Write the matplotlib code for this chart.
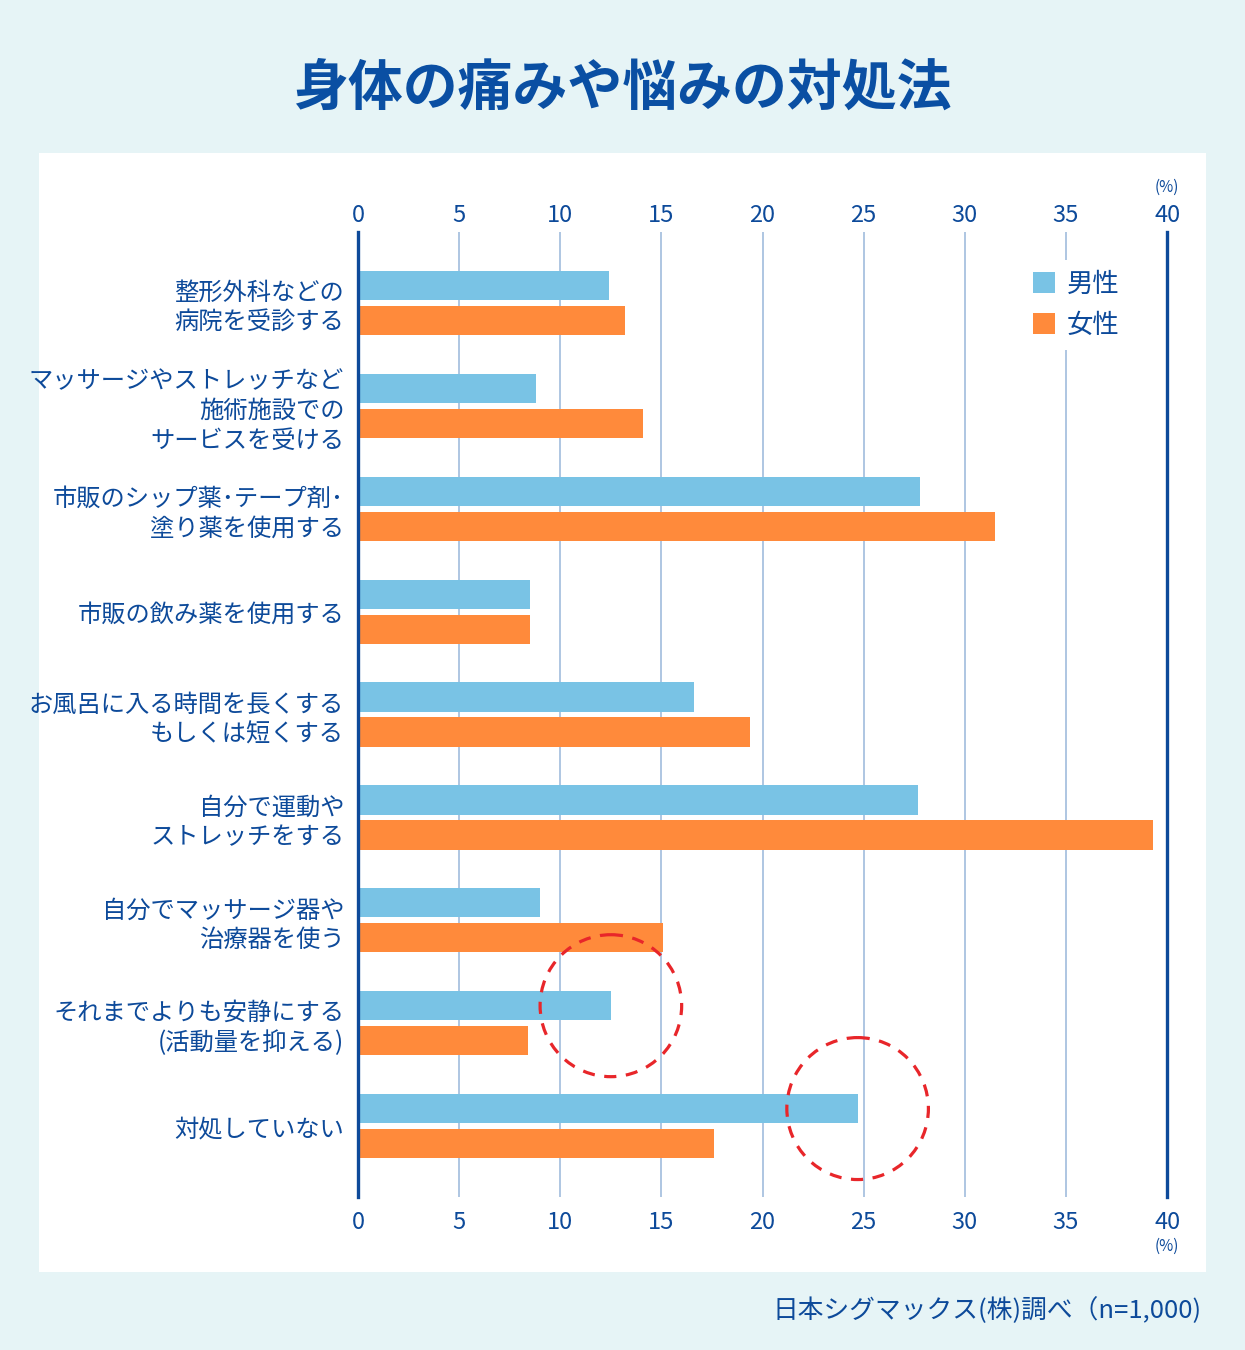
import matplotlib
matplotlib.use("Agg")
import matplotlib.pyplot as plt
from matplotlib.patches import Rectangle, Ellipse
import numpy as np

plt.rcParams['font.family'] = ['Noto Sans CJK JP', 'DejaVu Sans']

categories = [
    "整形外科などの\n病院を受診する",
    "マッサージやストレッチなど\n施術施設での\nサービスを受ける",
    "市販のシップ薬･テープ剤･\n塗り薬を使用する",
    "市販の飲み薬を使用する",
    "お風呂に入る時間を長くする\nもしくは短くする",
    "自分で運動や\nストレッチをする",
    "自分でマッサージ器や\n治療器を使う",
    "それまでよりも安静にする\n(活動量を抑える)",
    "対処していない",
]
men = [12.4, 8.8, 27.8, 8.5, 16.6, 27.7, 9.0, 12.5, 24.7]
women = [13.2, 14.1, 31.5, 8.5, 19.4, 39.3, 15.1, 8.4, 17.6]
xticks = [0, 5, 10, 15, 20, 25, 30, 35, 40]
circled = [7, 8]  # categories highlighted with a dashed circle (men's bar)

navy = '#0D4A9A'
c_men = '#79C3E5'
c_women = '#FF8A3B'
grid_c = '#AEC6E2'
bg = '#E6F4F6'

fig = plt.figure(figsize=(12.45, 13.5), dpi=100, facecolor=bg)

# white panel
fig.patches.append(Rectangle((0.0313, 0.0578), 0.9374, 0.8289,
                             transform=fig.transFigure, facecolor='white',
                             edgecolor='none', zorder=-1))

fig.text(0.5, 0.9348, "身体の痛みや悩みの対処法", ha='center', va='center',
         fontsize=39.5, fontweight='bold', color='#0A4FA3')

ax = fig.add_axes([0.2876, 0.1133, 0.6498, 0.7148])
ax.set_facecolor('none')
ax.set_zorder(2)

y = np.arange(len(categories))
h = 0.285
ax.barh(y - 0.17, men, height=h, color=c_men, label='男性', zorder=3)
ax.barh(y + 0.17, women, height=h, color=c_women, label='女性', zorder=3)

ax.set_xlim(0, 40)
ax.set_ylim(len(categories) - 1 + 0.69, -0.69)

for v in xticks[1:-1]:
    ax.axvline(v, color=grid_c, lw=1.4, zorder=1)

for s in ['top', 'bottom']:
    ax.spines[s].set_visible(False)
for s in ['left', 'right']:
    ax.spines[s].set_color(navy)
    ax.spines[s].set_linewidth(2.4)
    ax.spines[s].set_zorder(4)

ax.set_yticks(y, categories)
ax.tick_params(axis='y', length=0, pad=10, labelsize=17.5, labelcolor=navy)
for lbl in ax.get_yticklabels():
    lbl.set_linespacing(1.2)

ax.set_xticks(xticks)
ax.tick_params(axis='x', length=0, pad=10, labelsize=17, labelcolor=navy)

sec = ax.secondary_xaxis('top')
sec.set_xticks(xticks)
sec.tick_params(axis='x', length=0, pad=3.5, labelsize=17, labelcolor=navy)
sec.spines['top'].set_visible(False)

ax.text(40, 1.046, "(%)", transform=ax.get_xaxis_transform(), ha='center',
        va='center', fontsize=11, color=navy)
ax.text(40, -0.051, "(%)", transform=ax.get_xaxis_transform(), ha='center',
        va='center', fontsize=11, color=navy)

# dashed red circles around the end of men's bars
for i in circled:
    e = Ellipse((men[i], y[i] - 0.17), width=7.0, height=1.38, fill=False,
                edgecolor='#E8262A', lw=2.3, linestyle=(0, (3.8, 3)), zorder=5)
    ax.add_patch(e)

leg = ax.legend(loc='upper left', bbox_to_anchor=(1022 / 1245, 1 - 260 / 1350),
                bbox_transform=fig.transFigure, fontsize=19, frameon=True,
                facecolor='white', edgecolor='none', framealpha=1,
                handlelength=0.85, handleheight=0.85, handletextpad=0.45,
                labelspacing=0.55, borderaxespad=0, borderpad=0.4)
leg.get_frame().set_boxstyle('square', pad=0)
for t in leg.get_texts():
    t.set_color(navy)
leg.set_zorder(2)

fig.text(0.9655, 0.0289, "日本シグマックス(株)調べ（n=1,000)", ha='right',
         va='center', fontsize=18.5, color=navy)

fig.savefig('out.png', dpi=100, facecolor=bg)
